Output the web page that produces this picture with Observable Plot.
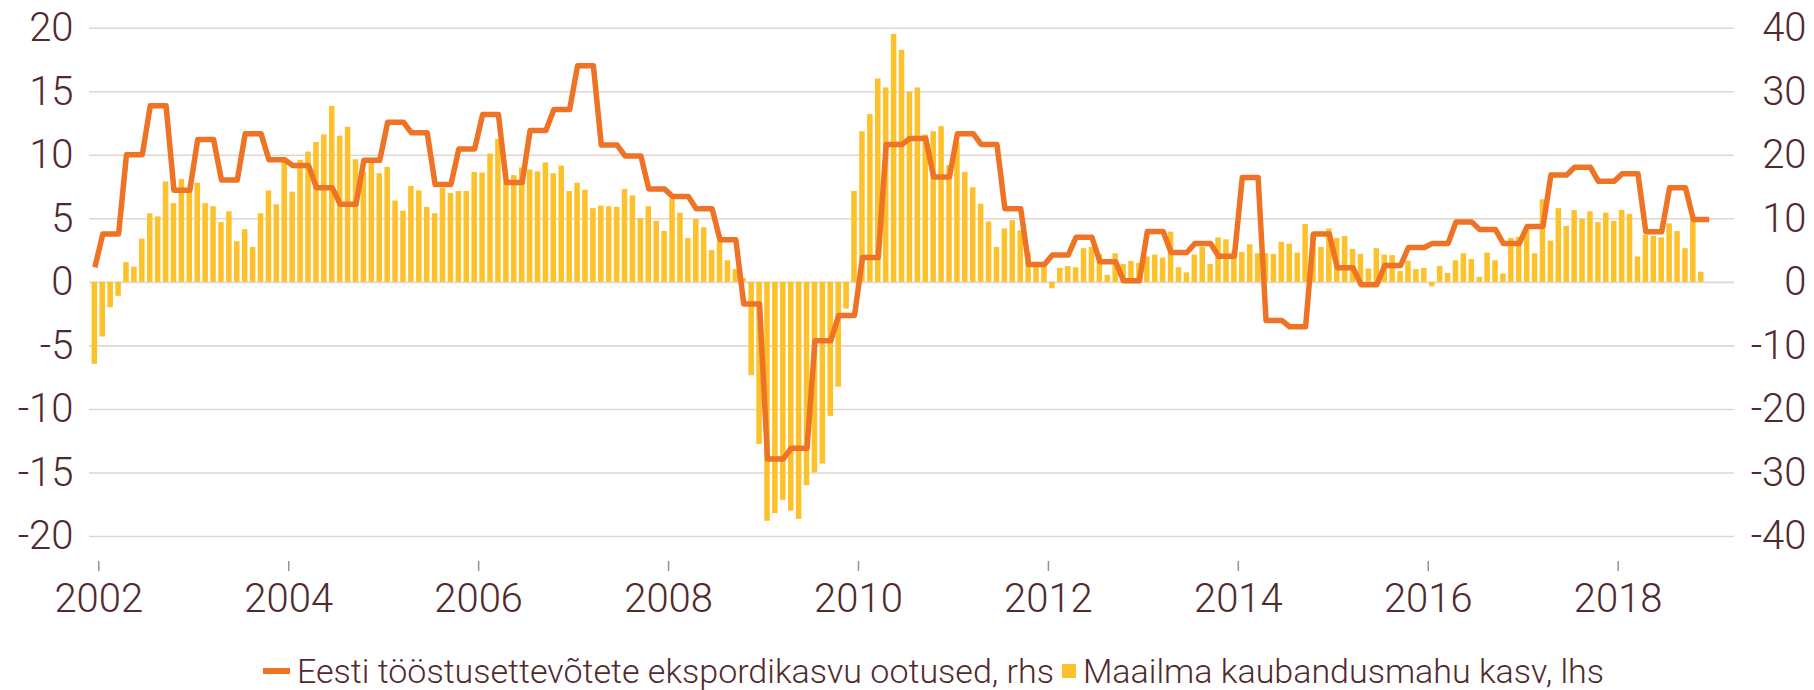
<!DOCTYPE html>
<html>
<head>
<meta charset="utf-8">
<script src="https://cdn.jsdelivr.net/npm/d3@7"></script>
<script src="https://cdn.jsdelivr.net/npm/@observablehq/plot@0.6"></script>
<style>
  html, body { margin: 0; padding: 0; background: #ffffff; }
  body { width: 1814px; height: 690px; position: relative; overflow: hidden; font-family: Roboto, "Noto Sans", sans-serif; color: #512a2c; }
  #chart { position: absolute; left: 0; top: 0; }
  #legend { position: absolute; left: 263px; top: 648px; height: 46px; display: flex; align-items: center; font-size: 34px; font-weight: 300; line-height: 46px; white-space: nowrap; }
  .sw-line { width: 27px; height: 6px; background: #ee7324; margin-right: 7px; }
  .sw-box { width: 14px; height: 14px; background: #fdc12c; margin-left: 8px; margin-right: 7px; }
</style>
</head>
<body>
<div id="chart"></div>
<div id="legend"></div>
<script>
// Monthly world trade volume growth (lhs), Dec 2001 .. Nov 2018
const barStartYear = 2001;
const barStartMonth = 12;
const tradeGrowth = [
  -6.45,
  -4.3, -2.0, -1.1, 1.55, 1.2, 3.4, 5.4, 5.15, 7.9, 6.2, 8.1, 7.4,
  7.8, 6.2, 5.95, 4.7, 5.55, 3.2, 4.15, 2.75, 5.4, 7.2, 6.1, 9.5,
  7.1, 9.6, 10.25, 11.0, 11.6, 13.85, 11.5, 12.2, 9.65, 8.7, 9.35, 8.55,
  9.05, 6.4, 5.6, 7.55, 7.2, 5.9, 5.4, 7.4, 7.0, 7.15, 7.15, 8.65,
  8.6, 10.1, 11.25, 7.8, 8.4, 9.0, 8.85, 8.7, 9.4, 8.55, 9.15, 7.15,
  7.8, 7.25, 5.8, 6.0, 5.95, 5.9, 7.3, 6.8, 5.0, 5.95, 4.8, 4.0,
  6.55, 5.45, 3.45, 4.95, 4.3, 2.5, 3.2, 1.7, 1.0, 0.3, -7.35, -12.75,
  -18.8, -18.2, -17.15, -18.0, -18.65, -16.0, -15.0, -14.3, -10.55, -8.25, -2.1, 7.15,
  11.85, 13.2, 16.0, 15.3, 19.5, 18.25, 14.95, 15.3, 11.6, 11.85, 12.25, 9.2,
  11.0, 8.65, 7.45, 6.15, 4.75, 2.75, 4.2, 4.85, 4.05, 2.3, 1.4, 1.4,
  -0.5, 1.1, 1.25, 1.15, 2.65, 2.75, 2.2, 0.55, 2.25, 1.4, 1.65, 1.5,
  2.0, 2.15, 1.9, 3.95, 1.15, 0.75, 2.15, 2.75, 1.4, 3.5, 3.35, 2.4,
  2.35, 2.95, 2.25, 2.25, 2.2, 3.15, 3.0, 2.3, 4.55, 3.8, 2.75, 4.2,
  3.45, 3.6, 2.6, 2.2, 1.05, 2.65, 2.15, 2.1, 0.85, 1.65, 1.0, 1.1,
  -0.35, 1.25, 0.7, 1.7, 2.25, 1.8, 0.4, 2.3, 1.7, 0.65, 3.45, 3.55,
  4.1, 2.25, 6.5, 3.25, 5.8, 4.4, 5.65, 4.95, 5.55, 4.7, 5.45, 4.8,
  5.65, 5.35, 2.0, 3.7, 3.6, 3.5, 4.6, 4.0, 2.65, 4.9, 0.8
];

// Quarterly Estonian industrial export expectations (rhs), Q4 2001 .. Q4 2018
const exportExpectations = [
  2.35,
  7.6, 20.1, 27.8, 14.5,
  22.5, 16.1, 23.4, 19.3,
  18.4, 14.9, 12.3, 19.2,
  25.2, 23.55, 15.4, 21.0,
  26.4, 15.7, 23.9, 27.2,
  34.1, 21.6, 19.9, 14.7,
  13.5, 11.6, 6.7, -3.4,
  -27.8, -26.1, -9.2, -5.2,
  3.9, 21.7, 22.65, 16.6,
  23.4, 21.7, 11.6, 2.8,
  4.3, 7.1, 3.25, 0.24,
  8.0, 4.7, 6.1, 4.1,
  16.5, -6.0, -7.0, 7.6,
  2.3, -0.36, 2.65, 5.5,
  6.1, 9.5, 8.3, 6.1,
  8.8, 16.9, 18.1, 15.9,
  17.1, 7.95, 14.9, 9.9
];
const lineStartYear = 2001;
const lineStartMonth = 12;

const yearTicks = [2002, 2004, 2006, 2008, 2010, 2012, 2014, 2016, 2018];
const lhsTicks = [-20, -15, -10, -5, 0, 5, 10, 15, 20];
const rhsFactor = 2; // rhs ticks: -40 .. 40
const seriesNames = [
  "Eesti tööstusettevõtete ekspordikasvu ootused, rhs",
  "Maailma kaubandusmahu kasv, lhs"
];

const colors = { bar: "#fdc12c", line: "#ee7324", text: "#512a2c", grid: "#e3d5cc", tick: "#9b8f8f" };

// Bars: one per month, spanning the month
const barData = tradeGrowth.map((v, i) => {
  const t = barStartYear + (barStartMonth - 1 + i) / 12;
  return { t0: t, t1: t + 1 / 12, v };
});

// Line: each quarterly value held over the months of its quarter, drawn mid-month
const lineData = [];
{
  const firstAbs = lineStartYear * 12 + (lineStartMonth - 1);
  const firstQ = Math.floor(firstAbs / 3);
  const nMonths = (exportExpectations.length - 1) * 3 + (3 - (firstAbs % 3));
  for (let i = 0; i < nMonths; i++) {
    const abs = firstAbs + i;
    const q = Math.floor(abs / 3) - firstQ;
    lineData.push({ t: abs / 12 + 0.5 / 12, v: exportExpectations[q] / rhsFactor });
  }
}

const chart = Plot.plot({
  width: 1814,
  height: 620,
  marginLeft: 89,
  marginRight: 80,
  marginTop: 27.7,
  marginBottom: 84,
  x: { type: "linear", domain: [2001.902, 2019.225], label: null },
  y: { domain: [-20, 20], label: null },
  style: { fontFamily: "Roboto, 'Noto Sans', sans-serif", fontSize: "40px", fontWeight: 300, color: colors.text, background: "transparent", overflow: "visible" },
  marks: [
    Plot.gridY(lhsTicks, { stroke: colors.grid, strokeOpacity: 1, strokeWidth: 1.6 }),
    Plot.rectY(barData, { x1: "t0", x2: "t1", y: "v", fill: colors.bar, insetLeft: 1.2, insetRight: 1.2 }),
    Plot.line(lineData, { x: "t", y: "v", stroke: colors.line, strokeWidth: 5.5, strokeLinejoin: "round", strokeLinecap: "butt" }),
    Plot.axisY(lhsTicks, { anchor: "left", label: null, tickSize: 0, tickPadding: 16, tickFormat: d => String(d), fill: colors.text }),
    Plot.axisY(lhsTicks, { anchor: "right", label: null, tickSize: 0, tickPadding: 72, textAnchor: "end", tickFormat: d => String(d * rhsFactor), fill: colors.text }),
    Plot.axisX(yearTicks, { anchor: "bottom", label: null, tickSize: 10, tickPadding: 12, dy: 25, tickFormat: d => String(d), stroke: colors.tick, strokeWidth: 1.5, fill: colors.text })
  ]
});
document.getElementById("chart").appendChild(chart);

const legend = document.getElementById("legend");
legend.innerHTML = `<span class="sw-line"></span><span>${seriesNames[0]}</span><span class="sw-box"></span><span>${seriesNames[1]}</span>`;
</script>
</body>
</html>
